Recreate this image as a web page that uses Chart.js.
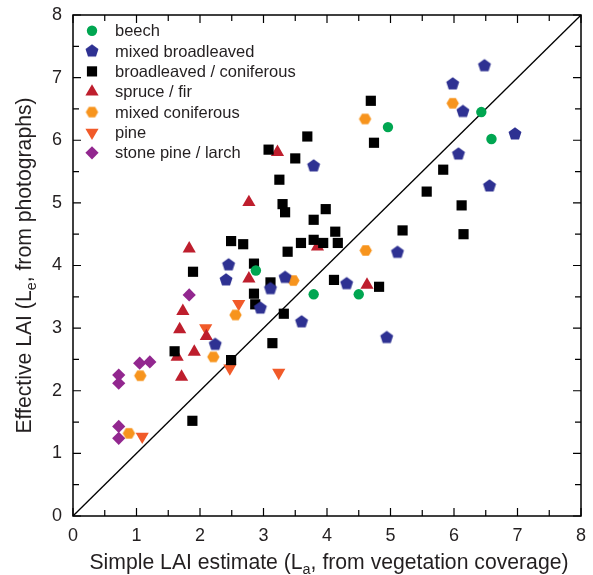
<!DOCTYPE html>
<html>
<head>
<meta charset="utf-8">
<script src="https://cdn.jsdelivr.net/npm/chart.js@4.4.1/dist/chart.umd.min.js"></script>
<style>
  html, body { margin: 0; padding: 0; background: #fff; }
</style>
</head>
<body>
<canvas id="laiChart" width="593" height="575"></canvas>
<script>
// LAI pairs per forest type: [simple estimate La, effective Le]
const beech = [[2.88, 3.92], [3.79, 3.54], [4.50, 3.54], [4.96, 6.21], [6.43, 6.45], [6.59, 6.02]];
const mixedBroadleaved = [
  [3.79, 5.59], [2.45, 4.01], [2.41, 3.77], [3.11, 3.63], [3.34, 3.81], [2.95, 3.32],
  [3.60, 3.10], [2.24, 2.74], [6.48, 7.19], [5.98, 6.90], [6.14, 6.46], [6.96, 6.10],
  [6.07, 5.78], [6.56, 5.27], [5.11, 4.21], [4.31, 3.71], [4.94, 2.85]
];
const broadleavedConiferous = [
  [4.69, 6.63], [4.74, 5.96], [3.69, 6.06], [3.08, 5.85], [3.50, 5.71], [3.25, 5.37],
  [3.30, 4.98], [3.34, 4.85], [3.98, 4.90], [3.79, 4.73], [4.13, 4.54], [5.19, 4.56],
  [2.49, 4.39], [2.68, 4.34], [3.59, 4.36], [3.79, 4.41], [3.94, 4.36], [4.17, 4.36],
  [3.38, 4.22], [2.85, 4.03], [3.11, 3.73], [4.11, 3.77], [4.82, 3.66], [2.85, 3.55],
  [2.87, 3.38], [3.32, 3.23], [3.14, 2.76], [2.49, 2.49], [1.89, 3.90], [1.60, 2.63],
  [1.88, 1.52], [5.83, 5.53], [5.57, 5.18], [6.12, 4.96], [6.15, 4.50]
];
const spruceFir = [
  [3.22, 5.81], [2.77, 5.01], [3.85, 4.30], [2.77, 3.79], [4.63, 3.69], [1.83, 4.27],
  [1.73, 3.27], [1.68, 2.98], [2.10, 2.87], [1.91, 2.62], [1.64, 2.54], [1.71, 2.22]
];
const mixedConiferous = [[4.60, 6.34], [5.98, 6.59], [4.61, 4.24], [3.47, 3.76], [2.56, 3.21], [2.21, 2.54], [1.06, 2.24], [0.88, 1.32]];
const pine = [[2.61, 3.39], [2.09, 3.00], [2.47, 2.36], [3.24, 2.29], [1.09, 1.27]];
const stonePineLarch = [[1.83, 3.53], [1.05, 2.44], [1.21, 2.46], [0.72, 2.25], [0.72, 2.12], [0.72, 1.43], [0.72, 1.24]];

const seriesNames = ['beech', 'mixed broadleaved', 'broadleaved / coniferous', 'spruce / fir', 'mixed coniferous', 'pine', 'stone pine / larch'];
const xTicks = [0, 1, 2, 3, 4, 5, 6, 7, 8];
const yTicks = [0, 1, 2, 3, 4, 5, 6, 7, 8];
const oneToOne = [[0, 0], [8, 8]];

const FONT = '"Liberation Sans", Arial, Helvetica, sans-serif';
const INK = '#231f20';

// little polygon sprites for the shapes chart.js doesn't ship
function polygonSprite(sides, r, color, startAngle) {
  const c = document.createElement('canvas');
  const s = Math.ceil(r * 2 + 2);
  c.width = s; c.height = s;
  const g = c.getContext('2d');
  g.fillStyle = color;
  g.beginPath();
  for (let i = 0; i < sides; i++) {
    const a = startAngle + i * 2 * Math.PI / sides;
    const px = s / 2 + r * Math.cos(a), py = s / 2 + r * Math.sin(a);
    i ? g.lineTo(px, py) : g.moveTo(px, py);
  }
  g.closePath();
  g.fill();
  return c;
}
const pentagon = polygonSprite(5, 6.8, '#2e3192', -Math.PI / 2);
const hexagon = polygonSprite(6, 6.2, '#f7941d', 0);

const toXY = arr => arr.map(([x, y]) => ({ x, y }));

function scatterSet(label, data, color, style, radius, rotation) {
  return {
    type: 'scatter',
    label,
    data: toXY(data),
    backgroundColor: color,
    pointStyle: style,
    pointRadius: radius,
    pointHoverRadius: radius,
    pointRotation: rotation || 0,
    pointBorderWidth: 0
  };
}

const datasets = [
  scatterSet(seriesNames[0], beech, '#00a651', 'circle', 5.2),
  scatterSet(seriesNames[1], mixedBroadleaved, '#2e3192', pentagon, 6),
  scatterSet(seriesNames[2], broadleavedConiferous, '#000000', 'rect', 7.2),
  scatterSet(seriesNames[3], spruceFir, '#be1e2d', 'triangle', 7.6),
  scatterSet(seriesNames[4], mixedConiferous, '#f7941d', hexagon, 6),
  scatterSet(seriesNames[5], pine, '#f15a29', 'triangle', 7.6, 180),
  scatterSet(seriesNames[6], stonePineLarch, '#92278f', 'rectRot', 6.6),
  {
    type: 'line',
    label: '1:1',
    data: toXY(oneToOne),
    borderColor: '#000',
    borderWidth: 1.3,
    pointRadius: 0,
    fill: false
  }
];

// text with one subscript chunk, centred on x
function drawSubscripted(ctx, parts, x, y, size) {
  const subSize = size * 0.68;
  let total = 0;
  parts.forEach(([t, sub]) => {
    ctx.font = (sub ? subSize : size) + 'px ' + FONT;
    total += ctx.measureText(t).width;
  });
  let cx = x - total / 2;
  ctx.textAlign = 'left';
  ctx.textBaseline = 'alphabetic';
  parts.forEach(([t, sub]) => {
    ctx.font = (sub ? subSize : size) + 'px ' + FONT;
    ctx.fillText(t, cx, sub ? y + size * 0.22 : y);
    cx += ctx.measureText(t).width;
  });
}

const framePlugin = {
  id: 'frame',
  afterDatasetsDraw(chart) {
    const { ctx, chartArea: a, scales } = chart;
    ctx.save();
    ctx.strokeStyle = '#000';
    ctx.lineWidth = 1.5;
    ctx.strokeRect(a.left, a.top, a.right - a.left, a.bottom - a.top);

    // inward ticks on all four sides, minor every half unit
    ctx.lineWidth = 1.2;
    ctx.beginPath();
    for (let v = 0; v <= 8; v += 0.5) {
      const len = Number.isInteger(v) ? 8 : 6;
      const px = scales.x.getPixelForValue(v);
      const py = scales.y.getPixelForValue(v);
      ctx.moveTo(px, a.bottom); ctx.lineTo(px, a.bottom - len);
      ctx.moveTo(px, a.top); ctx.lineTo(px, a.top + len);
      ctx.moveTo(a.left, py); ctx.lineTo(a.left + len, py);
      ctx.moveTo(a.right, py); ctx.lineTo(a.right - len, py);
    }
    ctx.stroke();

    // legend
    chart.data.datasets.forEach((ds, i) => {
      if (ds.type !== 'scatter') return;
      const y = 30.7 + i * 20.35;
      ctx.fillStyle = ds.backgroundColor;
      Chart.helpers.drawPoint(ctx, {
        pointStyle: ds.pointStyle,
        radius: ds.pointRadius,
        rotation: ds.pointRotation,
        borderWidth: 0
      }, 92, y);
      ctx.fillStyle = INK;
      ctx.font = '16.5px ' + FONT;
      ctx.textAlign = 'left';
      ctx.textBaseline = 'middle';
      ctx.fillText(ds.label, 115, y + 1);
    });

    // axis titles
    ctx.fillStyle = INK;
    drawSubscripted(ctx, [['Simple LAI estimate (L', false], ['a', true], [', from vegetation coverage)', false]],
      (a.left + a.right) / 2 + 2, 569, 21.2);
    ctx.save();
    ctx.translate(31, (a.top + a.bottom) / 2);
    ctx.rotate(-Math.PI / 2);
    drawSubscripted(ctx, [['Effective LAI (L', false], ['e', true], [', from photographs)', false]], 0, 0, 21.2);
    ctx.restore();
    ctx.restore();
  }
};

// keep the plot box fixed: drop the extra room chart.js adds for end labels
function fixX(s) { s.height = 59; s.paddingLeft = 0; s.paddingRight = 0; }
function fixY(s) { s.width = 72; s.paddingTop = 0; s.paddingBottom = 0; }

new Chart(document.getElementById('laiChart'), {
  data: { datasets },
  options: {
    responsive: false,
    animation: false,
    devicePixelRatio: 1,
    layout: { padding: { left: 1, right: 12, top: 15, bottom: 0 } },
    plugins: { legend: { display: false }, tooltip: { enabled: false } },
    scales: {
      x: {
        type: 'linear',
        min: 0, max: 8,
        afterFit: fixX,
        afterBuildTicks: s => { s.ticks = xTicks.map(v => ({ value: v })); },
        grid: { display: false, drawTicks: false },
        border: { display: false },
        ticks: { padding: 9, color: INK, font: { family: FONT, size: 18 } }
      },
      y: {
        type: 'linear',
        min: 0, max: 8,
        afterFit: fixY,
        afterBuildTicks: s => { s.ticks = yTicks.map(v => ({ value: v })); },
        grid: { display: false, drawTicks: false },
        border: { display: false },
        ticks: { padding: 11, color: INK, font: { family: FONT, size: 18 } }
      }
    }
  },
  plugins: [framePlugin]
});
</script>
</body>
</html>
